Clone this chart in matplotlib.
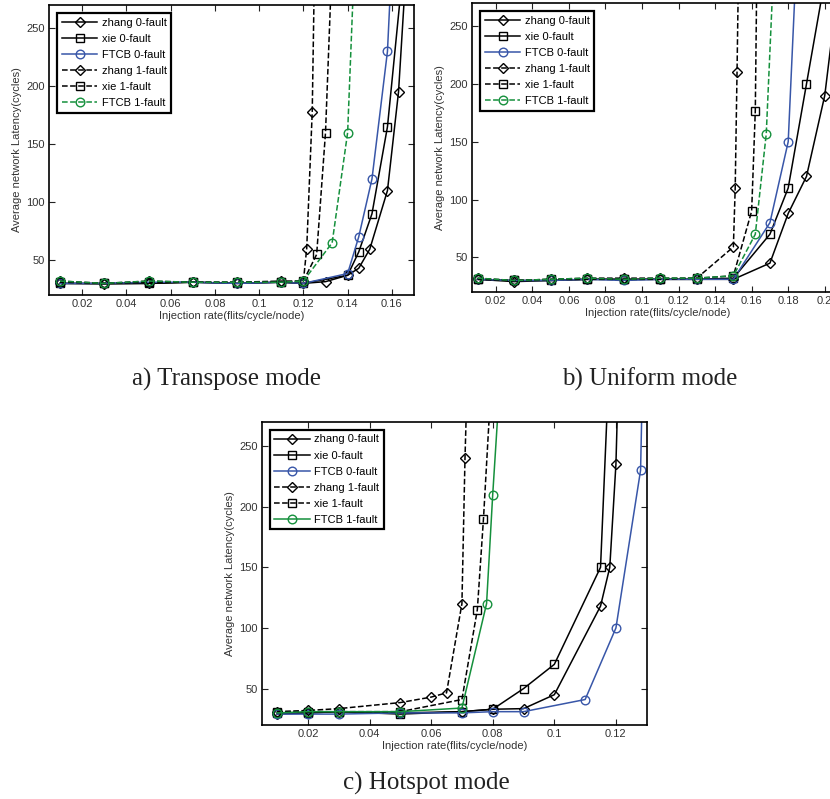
import numpy as np
import matplotlib
matplotlib.use('Agg')
import matplotlib.pyplot as plt

plt.rcParams['font.family'] = ['Liberation Sans', 'DejaVu Sans']

labels = ['zhang 0-fault', 'xie 0-fault', 'FTCB 0-fault',
          'zhang 1-fault', 'xie 1-fault', 'FTCB 1-fault']

# a) Transpose mode
a_x_zhang0 = [0.01, 0.03, 0.05, 0.07, 0.09, 0.11, 0.12, 0.13, 0.14, 0.145, 0.15, 0.158, 0.163, 0.168]
a_y_zhang0 = [30, 29.5, 30, 31, 30, 31, 30, 31.5, 37, 43, 59.5, 110, 195, 350]
a_x_xie0 = [0.01, 0.03, 0.05, 0.07, 0.09, 0.11, 0.12, 0.14, 0.145, 0.151, 0.158, 0.165]
a_y_xie0 = [30, 30, 30, 31, 30, 31, 30, 37, 57, 90, 165, 300]
a_x_ftcb0 = [0.01, 0.03, 0.05, 0.07, 0.09, 0.11, 0.12, 0.14, 0.145, 0.151, 0.158, 0.16]
a_y_ftcb0 = [30, 30, 31, 31, 30, 31, 30, 38.5, 70, 120, 230, 310]
a_x_zhang1 = [0.01, 0.03, 0.05, 0.07, 0.09, 0.11, 0.12, 0.1215, 0.124, 0.125]
a_y_zhang1 = [32, 30, 32, 31, 31, 32, 32, 60, 178, 300]
a_x_xie1 = [0.01, 0.03, 0.05, 0.07, 0.09, 0.11, 0.12, 0.126, 0.13, 0.133]
a_y_xie1 = [31, 30, 31, 31, 31, 31, 32, 55, 160, 310]
a_x_ftcb1 = [0.01, 0.03, 0.05, 0.07, 0.09, 0.11, 0.12, 0.133, 0.14, 0.143]
a_y_ftcb1 = [32, 30, 32, 31, 31, 31, 32, 65, 160, 305]

# b) Uniform mode
b_x_zhang0 = [0.01, 0.03, 0.05, 0.07, 0.09, 0.11, 0.13, 0.15, 0.17, 0.18, 0.19, 0.2, 0.21]
b_y_zhang0 = [31, 29, 30, 31, 31, 31, 31, 31, 45, 88, 120, 190, 320]
b_x_xie0 = [0.01, 0.03, 0.05, 0.07, 0.09, 0.11, 0.13, 0.15, 0.17, 0.18, 0.19, 0.2]
b_y_xie0 = [31, 30, 30, 31, 31, 31, 31, 32, 70, 110, 200, 290]
b_x_ftcb0 = [0.01, 0.03, 0.05, 0.07, 0.09, 0.11, 0.13, 0.15, 0.17, 0.18, 0.19]
b_y_ftcb0 = [31, 30, 30, 31, 30, 31, 31, 31, 80, 150, 500]
b_x_zhang1 = [0.01, 0.03, 0.05, 0.07, 0.09, 0.11, 0.13, 0.15, 0.151, 0.152, 0.153]
b_y_zhang1 = [32, 30, 31, 32, 32, 32, 32, 59, 110, 210, 320]
b_x_xie1 = [0.01, 0.03, 0.05, 0.07, 0.09, 0.11, 0.13, 0.15, 0.16, 0.162, 0.163]
b_y_xie1 = [31, 30, 31, 31, 31, 31, 32, 34, 90, 177, 320]
b_x_ftcb1 = [0.01, 0.03, 0.05, 0.07, 0.09, 0.11, 0.13, 0.15, 0.162, 0.168, 0.172]
b_y_ftcb1 = [32, 30, 31, 32, 31, 32, 32, 34, 70, 157, 300]

# c) Hotspot mode
c_x_zhang0 = [0.01, 0.02, 0.03, 0.05, 0.07, 0.08, 0.09, 0.1, 0.115, 0.118, 0.12, 0.122]
c_y_zhang0 = [29, 30, 31, 30, 31, 33, 33.5, 45, 118, 150, 235, 420]
c_x_xie0 = [0.01, 0.02, 0.03, 0.05, 0.07, 0.08, 0.09, 0.1, 0.115, 0.118]
c_y_xie0 = [30, 30, 31, 29, 31, 33, 50, 70, 150, 330]
c_x_ftcb0 = [0.01, 0.02, 0.03, 0.05, 0.07, 0.08, 0.09, 0.11, 0.12, 0.128, 0.129]
c_y_ftcb0 = [29, 29, 29, 30, 30, 31, 31, 41, 100, 230, 350]
c_x_zhang1 = [0.01, 0.02, 0.03, 0.05, 0.06, 0.065, 0.07, 0.071, 0.072]
c_y_zhang1 = [31, 32, 33.5, 38.5, 43, 46.5, 120, 240, 330]
c_x_xie1 = [0.01, 0.02, 0.03, 0.05, 0.07, 0.075, 0.077, 0.079]
c_y_xie1 = [31, 31, 31, 31, 41, 115, 190, 280]
c_x_ftcb1 = [0.01, 0.02, 0.03, 0.05, 0.07, 0.078, 0.08, 0.082]
c_y_ftcb1 = [30, 31, 31, 31, 34, 120, 210, 290]

BLUE = '#3856a8'
GREEN = '#15903c'


def draw_panel(ax, series, green_style, xlim, xticks):
    styles = [('k', '-', 'D'), ('k', '-', 's'), (BLUE, '-', 'o'),
              ('k', '--', 'D'), ('k', '--', 's'), (GREEN, green_style, 'o')]
    for (xs, ys), lab, (c, ls, m) in zip(series, labels, styles):
        ms = {'D': 4.6, 's': 6, 'o': 6.2}[m]
        ax.plot(xs, ys, color=c, linestyle=ls, marker=m, markersize=ms,
                markerfacecolor='none', markeredgecolor=c, markeredgewidth=1.0,
                linewidth=1.1, label=lab)
    ax.set_xlim(*xlim)
    ax.set_ylim(20, 270)
    ax.set_xticks(xticks)
    ax.set_xticklabels([('%g' % t) for t in xticks])
    ax.set_yticks([50, 100, 150, 200, 250])
    ax.tick_params(direction='in', top=True, right=True, labelsize=8,
                   length=4, width=0.8, pad=3, colors='#222222', labelcolor='#333333')
    for sp in ax.spines.values():
        sp.set_linewidth(1.2)
    ax.set_xlabel('Injection rate(flits/cycle/node)', fontsize=8, labelpad=1, color='#333333')
    ax.set_ylabel('Average network Latency(cycles)', fontsize=8, labelpad=3, color='#333333')
    leg = ax.legend(loc='upper left', fontsize=8, handlelength=3.2, handletextpad=0.4,
                    labelspacing=0.55, borderpad=0.4, borderaxespad=0.75,
                    fancybox=False, framealpha=1, edgecolor='k', numpoints=1)
    leg.get_frame().set_linewidth(1.6)


fig = plt.figure(figsize=(8.3, 7.99), dpi=100)

ax_a = fig.add_axes([0.0590, 0.6308, 0.4398, 0.3630])
draw_panel(ax_a, [(a_x_zhang0, a_y_zhang0), (a_x_xie0, a_y_xie0), (a_x_ftcb0, a_y_ftcb0),
                  (a_x_zhang1, a_y_zhang1), (a_x_xie1, a_y_xie1), (a_x_ftcb1, a_y_ftcb1)],
           '--', (0.005, 0.17), np.arange(0.02, 0.161, 0.02))

ax_b = fig.add_axes([0.5687, 0.6345, 0.4470, 0.3617])
draw_panel(ax_b, [(b_x_zhang0, b_y_zhang0), (b_x_xie0, b_y_xie0), (b_x_ftcb0, b_y_ftcb0),
                  (b_x_zhang1, b_y_zhang1), (b_x_xie1, b_y_xie1), (b_x_ftcb1, b_y_ftcb1)],
           '--', (0.007, 0.21), np.arange(0.02, 0.201, 0.02))

ax_c = fig.add_axes([0.3153, 0.0926, 0.4639, 0.3796])
draw_panel(ax_c, [(c_x_zhang0, c_y_zhang0), (c_x_xie0, c_y_xie0), (c_x_ftcb0, c_y_ftcb0),
                  (c_x_zhang1, c_y_zhang1), (c_x_xie1, c_y_xie1), (c_x_ftcb1, c_y_ftcb1)],
           '-', (0.005, 0.13), np.arange(0.02, 0.121, 0.02))

cap = dict(fontsize=18, family=['Liberation Serif', 'DejaVu Serif'], ha='center', va='center', color='#222222')
fig.text(226 / 830, 1 - 379 / 799, 'a) Transpose mode', **cap)
fig.text(650 / 830, 1 - 379 / 799, 'b) Uniform mode', **cap)
fig.text(426 / 830, 1 - 783 / 799, 'c) Hotspot mode', **cap)

plt.savefig('out.png', dpi=100)
